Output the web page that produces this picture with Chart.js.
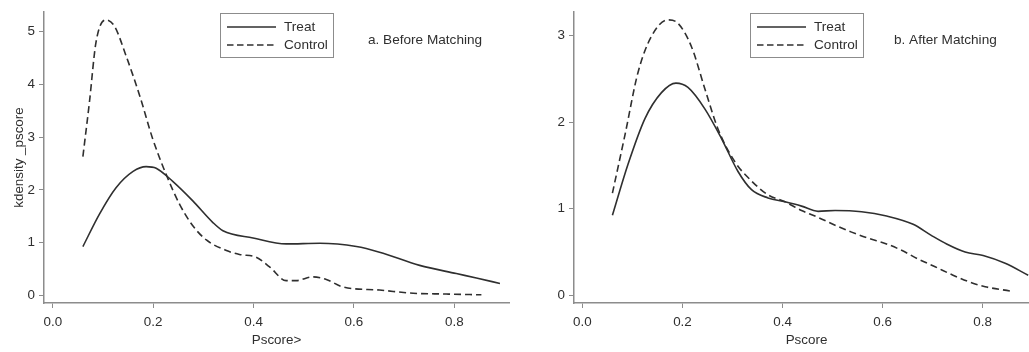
<!DOCTYPE html>
<html>
<head>
<meta charset="utf-8">
<script src="https://cdn.jsdelivr.net/npm/chart.js@4"></script>
<style>
    body { margin: 0; background: #fff; overflow: hidden; }
    #wrap { position: relative; width: 1029px; height: 352px; overflow: hidden; }
    .panel { position: absolute; top: 0; }
</style>
</head>
<body>
<div id="wrap">
    <div class="panel" style="left:0"><canvas id="beforeChart" width="515" height="352"></canvas></div>
    <div class="panel" style="left:515px"><canvas id="afterChart" width="524" height="352"></canvas></div>
</div>
<script>
        // Tick labels
        const xTicks = [0, 0.2, 0.4, 0.6, 0.8];
        const yTicksBefore = [0, 1, 2, 3, 4, 5];
        const yTicksAfter = [0, 1, 2, 3];

        // a. Before Matching
        const beforeTreatX = [0.06, 0.093, 0.126, 0.16, 0.186, 0.206, 0.239, 0.279, 0.319, 0.339, 0.399, 0.465, 0.532, 0.605, 0.651, 0.731, 0.804, 0.844, 0.891];
        const beforeTreatY = [0.925, 1.54, 2.04, 2.35, 2.44, 2.41, 2.16, 1.79, 1.38, 1.225, 1.088, 0.975, 0.987, 0.925, 0.818, 0.568, 0.413, 0.33, 0.225];
        const beforeControlX = [0.06, 0.073, 0.086, 0.105, 0.123, 0.146, 0.173, 0.199, 0.226, 0.253, 0.279, 0.306, 0.346, 0.372, 0.405, 0.432, 0.465, 0.485, 0.518, 0.545, 0.578, 0.651, 0.718, 0.784, 0.854];
        const beforeControlY = [2.63, 3.66, 4.79, 5.22, 5.1, 4.54, 3.79, 2.97, 2.29, 1.72, 1.32, 1.05, 0.85, 0.775, 0.725, 0.54, 0.28, 0.28, 0.35, 0.30, 0.16, 0.10, 0.04, 0.025, 0.01];

        // b. After Matching
        const afterTreatX = [0.06, 0.091, 0.125, 0.158, 0.187, 0.211, 0.245, 0.278, 0.311, 0.338, 0.371, 0.405, 0.438, 0.471, 0.505, 0.558, 0.608, 0.661, 0.698, 0.728, 0.765, 0.801, 0.845, 0.891];
        const afterTreatY = [0.924, 1.51, 2.04, 2.34, 2.45, 2.40, 2.15, 1.81, 1.43, 1.22, 1.125, 1.08, 1.03, 0.97, 0.98, 0.966, 0.916, 0.82, 0.69, 0.593, 0.50, 0.46, 0.37, 0.232];
        const afterControlX = [0.06, 0.085, 0.111, 0.138, 0.171, 0.191, 0.218, 0.245, 0.271, 0.305, 0.338, 0.371, 0.405, 0.438, 0.471, 0.505, 0.538, 0.571, 0.605, 0.638, 0.671, 0.705, 0.738, 0.771, 0.805, 0.855];
        const afterControlY = [1.18, 1.85, 2.57, 2.99, 3.18, 3.14, 2.87, 2.38, 1.92, 1.54, 1.32, 1.16, 1.08, 0.98, 0.90, 0.81, 0.73, 0.66, 0.60, 0.52, 0.42, 0.33, 0.24, 0.16, 0.10, 0.05];

        const font = { family: "'Liberation Sans', Arial, sans-serif", size: 13.4 };
        const axisGrey = '#8c8c8c';
        const ink = '#2f2f2f';

        function toPoints(xs, ys) {
            return xs.map((x, i) => ({ x: x, y: ys[i] }));
        }

        // legend box + panel label drawn inside the plot
        const legendPlugin = {
            id: 'boxLegend',
            afterDraw(chart, args, opts) {
                const ctx = chart.ctx;
                ctx.save();
                ctx.strokeStyle = axisGrey;
                ctx.lineWidth = 1;
                ctx.strokeRect(opts.x + 0.5, 13.5, 113, 44);
                ctx.strokeStyle = ink;
                ctx.lineWidth = 1.5;
                ctx.beginPath();
                ctx.moveTo(opts.x + 7, 27);
                ctx.lineTo(opts.x + 56, 27);
                ctx.stroke();
                ctx.setLineDash([6.5, 3.5]);
                ctx.beginPath();
                ctx.moveTo(opts.x + 7, 45);
                ctx.lineTo(opts.x + 56, 45);
                ctx.stroke();
                ctx.setLineDash([]);
                ctx.fillStyle = ink;
                ctx.font = "13.6px 'Liberation Sans', Arial, sans-serif";
                ctx.textBaseline = 'middle';
                ctx.fillText('Treat', opts.x + 64, 27);
                ctx.fillText('Control', opts.x + 64, 45);
                ctx.fillText(opts.label, opts.labelX, 40);
                ctx.restore();
            }
        };

        function makeChart(id, cfg) {
            return new Chart(document.getElementById(id).getContext('2d'), {
                type: 'scatter',
                data: {
                    datasets: [
                        {
                            label: 'Treat',
                            data: toPoints(cfg.treatX, cfg.treatY),
                            showLine: true,
                            borderColor: ink,
                            borderWidth: 1.6,
                            pointRadius: 0,
                            cubicInterpolationMode: 'monotone'
                        },
                        {
                            label: 'Control',
                            data: toPoints(cfg.controlX, cfg.controlY),
                            showLine: true,
                            borderColor: ink,
                            borderWidth: 1.6,
                            borderDash: [7, 4],
                            pointRadius: 0,
                            cubicInterpolationMode: 'monotone'
                        }
                    ]
                },
                plugins: [legendPlugin],
                options: {
                    responsive: false,
                    animation: false,
                    layout: { padding: { top: 9, right: cfg.padRight, left: 0, bottom: 0 } },
                    plugins: {
                        legend: { display: false },
                        tooltip: { enabled: false },
                        boxLegend: cfg.legend
                    },
                    scales: {
                        x: {
                            type: 'linear',
                            min: cfg.xMin,
                            max: cfg.xMax,
                            afterBuildTicks: s => { s.ticks = xTicks.map(v => ({ value: v })); },
                            afterFit: s => { s.height = 49; },
                            grid: { drawOnChartArea: false, color: axisGrey, tickLength: 5 },
                            border: { color: axisGrey, width: 1.5 },
                            ticks: { font: font, color: ink, padding: 6, maxRotation: 0, callback: v => v.toFixed(1) },
                            title: { display: true, text: cfg.xTitle, font: font, color: ink, padding: { top: 0, bottom: 4 } }
                        },
                        y: {
                            min: cfg.yMin,
                            max: cfg.yMax,
                            afterBuildTicks: s => { s.ticks = cfg.yTicks.map(v => ({ value: v })); },
                            afterFit: s => { s.width = cfg.yWidth; },
                            grid: { drawOnChartArea: false, color: axisGrey, tickLength: 5 },
                            border: { color: axisGrey, width: 1.5 },
                            ticks: { font: font, color: ink, padding: 4, callback: v => String(v) },
                            title: { display: cfg.yTitle !== '', text: cfg.yTitle, font: font, color: ink, padding: { top: 11, bottom: 0 } }
                        }
                    }
                }
            });
        }

        makeChart('beforeChart', {
            treatX: beforeTreatX, treatY: beforeTreatY,
            controlX: beforeControlX, controlY: beforeControlY,
            xMin: -0.0175, xMax: 0.909, yMin: -0.145, yMax: 5.37,
            yTicks: yTicksBefore, yWidth: 44, padRight: 6,
            xTitle: 'Pscore>', yTitle: 'kdensity _pscore',
            legend: { x: 220, label: 'a. Before Matching', labelX: 368 }
        });

        makeChart('afterChart', {
            treatX: afterTreatX, treatY: afterTreatY,
            controlX: afterControlX, controlY: afterControlY,
            xMin: -0.0168, xMax: 0.9126, yMin: -0.088, yMax: 3.27,
            yTicks: yTicksAfter, yWidth: 59, padRight: 0,
            xTitle: 'Pscore', yTitle: '',
            legend: { x: 235, label: 'b. After Matching', labelX: 379 }
        });
</script>
</body>
</html>
